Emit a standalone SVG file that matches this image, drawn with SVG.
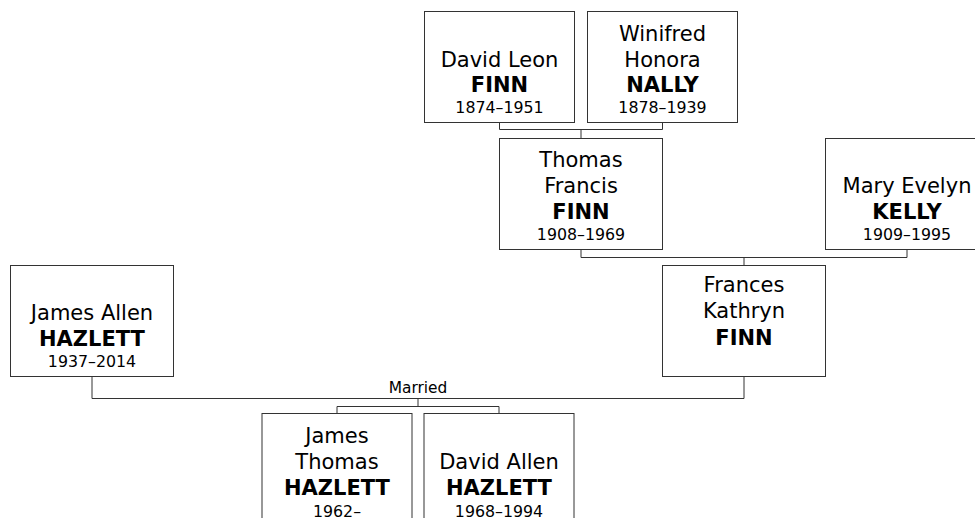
<svg xmlns="http://www.w3.org/2000/svg" width="975" height="518" viewBox="0 0 975 518">
<style>
rect.box{fill:#fff;stroke:#333;stroke-width:1}
.con{fill:none;stroke:#333;stroke-width:1}
text{font-family:"DejaVu Sans",Verdana,sans-serif;fill:#000;text-anchor:middle}
.n{font-size:21px}
.s{font-size:21px;font-weight:bold}
.d{font-size:15.8px}
.m{font-size:15.4px}
</style>
<rect width="975" height="518" fill="#fff"/>
<g id="connectors">
<path class="con" d="M499.5,122.5V129.5H662.5V122.5M581,129.5V138.5"/>
<path class="con" d="M581,249.5V257.5H907V249.5M744,257.5V265.5"/>
<path class="con" d="M92,376.5V398.5H744V376.5"/>
<path class="con" d="M418,398.5V406.5M337,413.5V406.5H499V413.5"/>
<text class="m" x="418" y="393">Married</text>
</g>
<g id="david-leon-finn">
<rect class="box" x="424.5" y="11.5" width="150" height="111"/>
<text class="n" x="499.5" y="67">David Leon</text>
<text class="s" x="499.5" y="92">FINN</text>
<text class="d" x="499.5" y="113">1874–1951</text>
</g>
<g id="winifred-honora-nally">
<rect class="box" x="587.5" y="11.5" width="150" height="111"/>
<text class="n" x="662.5" y="41">Winifred</text>
<text class="n" x="662.5" y="67">Honora</text>
<text class="s" x="662.5" y="92">NALLY</text>
<text class="d" x="662.5" y="113">1878–1939</text>
</g>
<g id="thomas-francis-finn">
<rect class="box" x="499.5" y="138.5" width="163" height="111"/>
<text class="n" x="581" y="167">Thomas</text>
<text class="n" x="581" y="193">Francis</text>
<text class="s" x="581" y="219">FINN</text>
<text class="d" x="581" y="240">1908–1969</text>
</g>
<g id="mary-evelyn-kelly">
<rect class="box" x="825.5" y="138.5" width="163" height="111"/>
<text class="n" x="907" y="193">Mary Evelyn</text>
<text class="s" x="907" y="219">KELLY</text>
<text class="d" x="907" y="240">1909–1995</text>
</g>
<g id="frances-kathryn-finn">
<rect class="box" x="662.5" y="265.5" width="163" height="111"/>
<text class="n" x="744" y="292">Frances</text>
<text class="n" x="744" y="318">Kathryn</text>
<text class="s" x="744" y="345">FINN</text>
</g>
<g id="james-allen-hazlett">
<rect class="box" x="10.5" y="265.5" width="163" height="111"/>
<text class="n" x="92" y="320">James Allen</text>
<text class="s" x="92" y="346">HAZLETT</text>
<text class="d" x="92" y="367">1937–2014</text>
</g>
<g id="james-thomas-hazlett">
<rect class="box" x="262" y="413.5" width="150" height="111"/>
<text class="n" x="337" y="443">James</text>
<text class="n" x="337" y="469">Thomas</text>
<text class="s" x="337" y="495">HAZLETT</text>
<text class="d" x="337" y="517">1962–</text>
</g>
<g id="david-allen-hazlett">
<rect class="box" x="424" y="413.5" width="150" height="111"/>
<text class="n" x="499" y="469">David Allen</text>
<text class="s" x="499" y="495">HAZLETT</text>
<text class="d" x="499" y="517">1968–1994</text>
</g>
</svg>
